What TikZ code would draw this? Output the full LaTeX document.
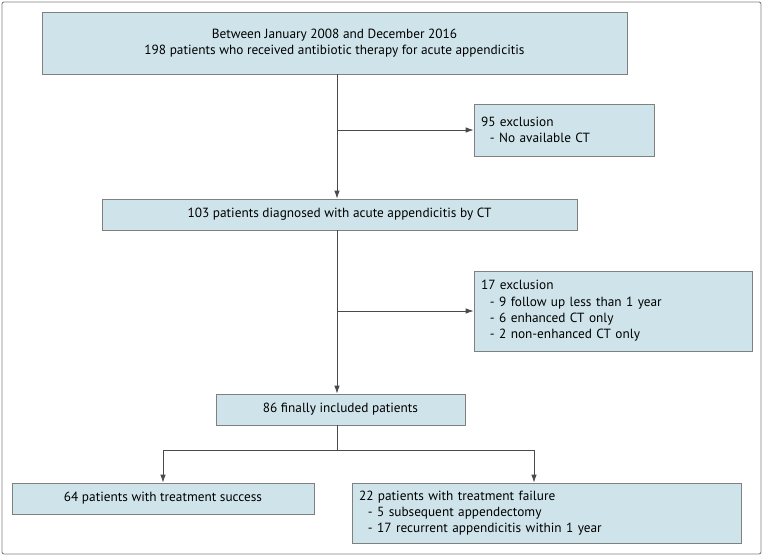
\documentclass[tikz,border=0pt]{standalone}
\usepackage{fontspec}
\setmainfont{PT Sans}
\usepackage{xcolor}
\usepackage{tikz}
\usetikzlibrary{
    calc,
    arrows.meta
}
\definecolor{boxfill}{HTML}{CFE4EA}
\definecolor{boxline}{HTML}{808080}
\definecolor{flowline}{HTML}{4A4A4A}
\tikzset{
    stage/.style={draw=boxline, fill=boxfill, line width=0.8pt, align=center,
        inner sep=0pt, font=\fontsize{13.3}{16.3}\selectfont},
    listbox/.style={stage, align=left, inner xsep=7pt},
    flow/.style={draw=flowline, line width=0.8pt},
    arr/.style={flow, -{Latex[length=8pt, width=5.5pt]}}
}

\begin{document}
\begin{tikzpicture}[x=1pt, y=-1pt]
        \useasboundingbox (0,0) rectangle (764,557);
        \draw[boxline, line width=0.9pt, rounded corners=2pt] (2,2) rectangle (761,554);

        % main column
        \node[stage, minimum width=585pt, minimum height=62pt] (start) at (334.5,43)
            {Between January 2008 and December 2016\\198 patients who received antibiotic therapy for acute appendicitis};
        \node[stage, minimum width=475pt, minimum height=31pt] (ct) at (339.5,214.5)
            {103 patients diagnosed with acute appendicitis by CT};
        \node[stage, minimum width=249pt, minimum height=31pt] (final) at (340.5,409.5)
            {86 finally included patients};

        % exclusions
        \node[listbox, text width=166pt, minimum height=52pt] (excl1) at (564,130)
            {95 exclusion\\\ \ - No available CT};
        \node[listbox, text width=264pt, minimum height=80pt] (excl2) at (613,311)
            {17 exclusion\\\ \ - 9 follow up less than 1 year\\\ \ - 6 enhanced CT only\\\ \ - 2 non-enhanced CT only};

        % outcomes
        \node[stage, minimum width=302pt, minimum height=31pt] (success) at (163,498.5)
            {64 patients with treatment success};
        \node[listbox, text width=375pt, minimum height=60pt] (failure) at (546.5,513)
            {22 patients with treatment failure\\\ \ - 5 subsequent appendectomy\\\ \ - 17 recurrent appendicitis within 1 year};

        \coordinate (b1) at (337,130);
        \coordinate (b2) at (337,311);
        \coordinate (split) at (337,450);
        \coordinate (right) at (534,450);

        \draw[arr] (start.south -| b1) -- (ct.north -| b1);
        \draw[arr] (b1) -- (excl1.west);
        \draw[arr] (ct.south -| b2) -- (final.north -| b2);
        \draw[arr] (b2) -- (excl2.west);
        \draw[flow] (final.south -| split) -- (split);
        \draw[arr] (split) -| (success.north);
        \draw[arr] (split) -- (right) -- (failure.north -| right);
\end{tikzpicture}
\end{document}
